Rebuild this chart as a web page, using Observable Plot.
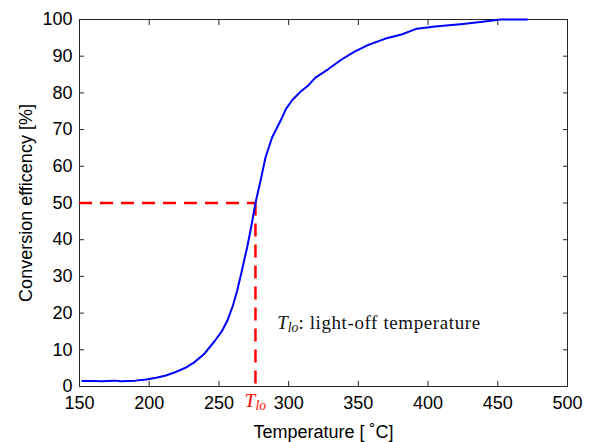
<!DOCTYPE html>
<html><head><meta charset="utf-8">
<script src="https://cdn.jsdelivr.net/npm/d3@7"></script>
<script src="https://cdn.jsdelivr.net/npm/@observablehq/plot@0.6"></script>
<style>
body{margin:0;background:#fff;}
#chart svg{display:block;}
</style>
</head><body><div id="chart"></div>
<script>
// Data
const temperature = [152, 160, 166, 170, 175, 180, 190, 198, 205, 212, 218, 226, 232, 239, 247, 252, 256, 260, 263, 265.5, 267, 270.3, 273.4, 276.2, 279.8, 283.4, 288.2, 294.2, 298, 302.5, 308.5, 314, 319, 328.5, 338, 347, 356, 369.5, 381, 392, 405, 425, 439, 452, 471];
const conversion  = [1.5, 1.5, 1.4, 1.5, 1.6, 1.4, 1.6, 1.9, 2.4, 3.0, 3.8, 5.1, 6.5, 8.7, 12.4, 15.0, 17.9, 22.0, 26.0, 30.0, 32.5, 38.0, 44.0, 50.0, 56.0, 62.4, 67.9, 72.4, 75.6, 78.0, 80.3, 82.0, 84.1, 86.5, 89.1, 91.2, 92.9, 94.8, 95.9, 97.5, 98.1, 98.8, 99.4, 100, 100];
const xTicks = [150, 200, 250, 300, 350, 400, 450, 500];
const yTicks = [0, 10, 20, 30, 40, 50, 60, 70, 80, 90, 100];
const lightOffTemp = 276.2;
const lightOffLevel = 50;
const xLabel = "Temperature [ \u02DAC]";
const yLabel = "Conversion efficency [%]";
const symbolMain = "T";
const symbolSub = "lo";
const annotationRest = ": light-off temperature";

const rows = temperature.map((t, i) => ({t, c: conversion[i]}));
const axisColor = "#262626";
const serif = "'Liberation Serif', 'DejaVu Serif', serif";

const svg = Plot.plot({
  width: 595,
  height: 442,
  marginLeft: 79,
  marginRight: 28,
  marginTop: 19,
  marginBottom: 56,
  style: {fontFamily: "'Liberation Sans', Arial, sans-serif", fontSize: "18px", color: axisColor, background: "#fff"},
  x: {domain: [150, 500]},
  y: {domain: [0, 100]},
  marks: [
    Plot.axisX(xTicks, {anchor: "bottom", tickSize: -5, tickPadding: 15, label: xLabel, labelAnchor: "center", labelOffset: 51, labelArrow: "none", fill: "#000"}),
    Plot.axisX(xTicks, {anchor: "top", tickSize: -5, tickFormat: () => "", label: null}),
    Plot.axisY(yTicks, {anchor: "left", tickSize: -5, tickPadding: 12, label: yLabel, labelAnchor: "center", labelOffset: 60, labelArrow: "none", fill: "#000"}),
    Plot.axisY(yTicks, {anchor: "right", tickSize: -5, tickFormat: () => "", label: null}),
    Plot.frame({stroke: axisColor, strokeWidth: 1}),
    Plot.ruleY([lightOffLevel], {y: d => d, x1: 150, x2: lightOffTemp, stroke: "#ff0000", strokeWidth: 2.5, strokeDasharray: "13,8"}),
    Plot.ruleX([lightOffTemp], {x: d => d, y1: lightOffLevel, y2: 0, stroke: "#ff0000", strokeWidth: 2.5, strokeDasharray: "13,8"}),
    Plot.line(rows, {x: "t", y: "c", stroke: "#0000ff", strokeWidth: 2}),
    Plot.text([lightOffTemp], {x: d => d, y: 0, dy: 14, text: () => symbolMain + symbolSub, fill: "#ff0000", fontFamily: serif, fontSize: 19, textAnchor: "middle"}),
    Plot.text([lightOffTemp], {x: 291.8, y: 17.4, text: () => symbolMain + symbolSub + annotationRest, fill: "#111", fontFamily: serif, fontSize: 19, textAnchor: "start"})
  ]
});

// Typeset the symbol with an italic T and italic subscript "lo"
svg.querySelectorAll("text").forEach(el => {
  const s = el.textContent;
  if (s === symbolMain + symbolSub || s === symbolMain + symbolSub + annotationRest) {
    const rest = s.slice((symbolMain + symbolSub).length);
    while (el.firstChild) el.removeChild(el.firstChild);
    const ns = "http://www.w3.org/2000/svg";
    const t1 = document.createElementNS(ns, "tspan");
    t1.setAttribute("font-style", "italic");
    t1.textContent = symbolMain;
    const t2 = document.createElementNS(ns, "tspan");
    t2.setAttribute("font-style", "italic");
    t2.setAttribute("font-size", "0.72em");
    t2.setAttribute("dy", "3");
    t2.textContent = symbolSub;
    el.appendChild(t1);
    el.appendChild(t2);
    if (rest) {
      const t3 = document.createElementNS(ns, "tspan");
      t3.setAttribute("dy", "-3");
      t3.setAttribute("letter-spacing", "0.6");
      t3.textContent = rest;
      el.appendChild(t3);
    }
  }
});

document.getElementById("chart").appendChild(svg);
</script>
</body></html>
